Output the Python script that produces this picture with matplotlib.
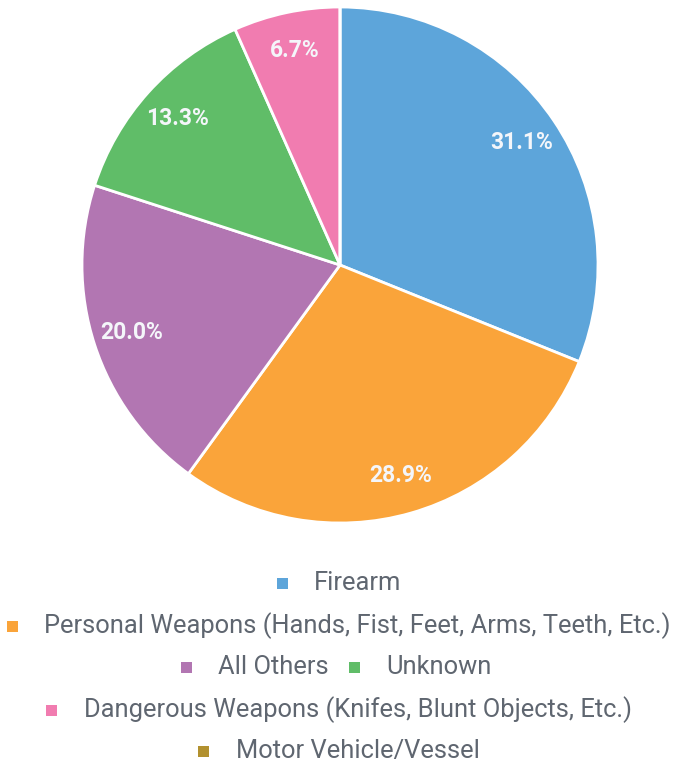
import matplotlib
matplotlib.use('Agg')
import matplotlib.pyplot as plt
from matplotlib.patches import Rectangle

plt.rcParams['font.family'] = ['Roboto', 'DejaVu Sans']

# data (counts giving the shown percentages)
categories = [
    'Firearm',
    'Personal Weapons (Hands, Fist, Feet, Arms, Teeth, Etc.)',
    'All Others',
    'Unknown',
    'Dangerous Weapons (Knifes, Blunt Objects, Etc.)',
    'Motor Vehicle/Vessel',
]
counts = [14, 13, 9, 6, 3, 0]
colors = ['#5DA5DA', '#FAA43A', '#B276B2', '#60BD68', '#F17CB0', '#B2912F']
legend_rows = [[0], [1], [2, 3], [4], [5]]

W, H = 678, 778
fig = plt.figure(figsize=(W / 100, H / 100), dpi=100)

cx, cy, r = 340, 265, 258
ax = fig.add_axes([(cx - r) / W, 1 - (cy + r) / H, 2 * r / W, 2 * r / H])


def fmt(p):
    return f'{p:.1f}%' if p > 0 else ''


wedges, texts, autotexts = ax.pie(
    counts, colors=colors, startangle=90, counterclock=False,
    autopct=fmt, pctdistance=0.85,
    wedgeprops=dict(edgecolor='white', linewidth=2),
    textprops=dict(color='#f4f6fa', fontsize=16.5, fontweight='semibold'),
)
ax.set_xlim(-1.0, 1.0)
ax.set_ylim(-1.0, 1.0)
ax.set_aspect('equal')
ax.axis('off')

# legend, centered rows
renderer = fig.canvas.get_renderer()
row_y = [583, 626, 667, 710, 751]
text_color = '#5f6670'
fs = 18.4
box = 11
gap_marker = 32   # marker center -> text start
gap_items = 20

for row, y in zip(legend_rows, row_y):
    widths = []
    for i in row:
        t = fig.text(0, 0, categories[i], fontsize=fs)
        widths.append(t.get_window_extent(renderer).width)
        t.remove()
    total = sum(w + gap_marker + box / 2 for w in widths) + (gap_items + box / 2) * (len(row) - 1)
    x = (W - total) / 2
    for i, w in zip(row, widths):
        mx = x + box / 2
        fig.patches.append(Rectangle(((mx - box / 2) / W, 1 - (y + box / 2) / H), box / W, box / H,
                                     transform=fig.transFigure, facecolor=colors[i], edgecolor='none'))
        fig.text((mx + gap_marker) / W, 1 - y / H, categories[i], fontsize=fs,
                 color=text_color, va='center', ha='left')
        x = mx + gap_marker + w + gap_items

fig.savefig('out.png', dpi=100, facecolor='white')
